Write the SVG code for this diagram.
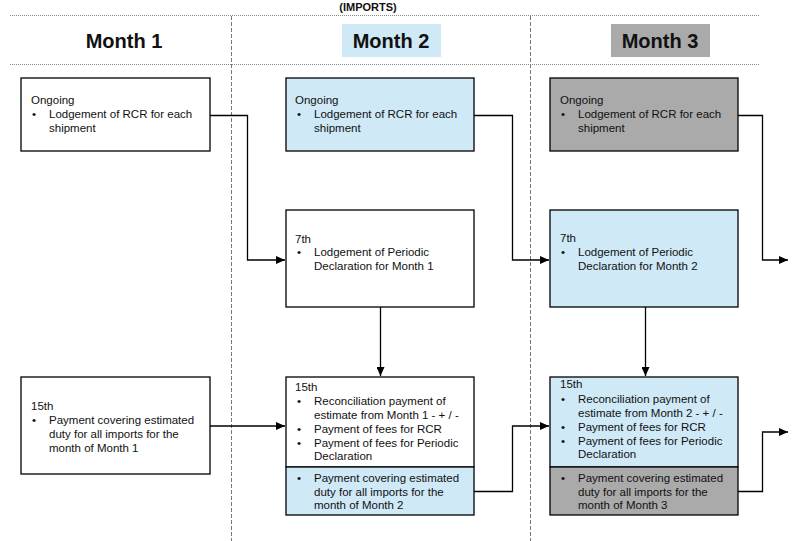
<svg xmlns="http://www.w3.org/2000/svg" width="795" height="541" viewBox="0 0 795 541">
<defs>
<style>
text{font-family:"Liberation Sans",Arial,sans-serif;font-size:11.5px;fill:#111}
.hd{font-size:20px;font-weight:bold;text-anchor:middle}
.imp{font-size:11px;font-weight:bold;text-anchor:middle}
.box{stroke:#000;stroke-width:1.3}
.w{fill:#fff}
.b{fill:#cfe9f7}
.g{fill:#aaaaaa}
.rule{stroke:#888;stroke-width:1;stroke-dasharray:1 1}
.vd{stroke:#777;stroke-width:1;stroke-dasharray:4 2}
.con{fill:none;stroke:#000;stroke-width:1.3}
</style>
<marker id="ah" markerWidth="10" markerHeight="8" refX="9" refY="4" orient="auto" markerUnits="userSpaceOnUse">
<path d="M0,0 L9,4 L0,8 z" fill="#000"/>
</marker>
</defs>
<rect width="795" height="541" fill="#fff"/>
<g id="header">
<text class="imp" x="368" y="11">(IMPORTS)</text>
<line class="rule" x1="10" y1="15.5" x2="760" y2="15.5"/>
<line class="rule" x1="10" y1="64.5" x2="760" y2="64.5"/>
<line class="vd" x1="231.5" y1="16" x2="231.5" y2="541"/>
<line class="vd" x1="530.5" y1="16" x2="530.5" y2="541"/>
<text class="hd" x="124" y="48">Month 1</text>
<rect x="342" y="24" width="99" height="33" class="b"/>
<text class="hd" x="391" y="48">Month 2</text>
<rect x="611" y="24" width="99" height="33" class="g"/>
<text class="hd" x="660" y="48">Month 3</text>
</g>
<g id="m1-ongoing">
<rect class="box w" x="21" y="78" width="189" height="73"/>
<text x="31" y="104">Ongoing</text>
<text x="32" y="118">•</text><text x="49" y="118">Lodgement of RCR for each</text>
<text x="49" y="132">shipment</text>
</g>
<g id="m2-ongoing">
<rect class="box b" x="286" y="78" width="188" height="73"/>
<text x="295" y="104">Ongoing</text>
<text x="297" y="118">•</text><text x="314" y="118">Lodgement of RCR for each</text>
<text x="314" y="132">shipment</text>
</g>
<g id="m3-ongoing">
<rect class="box g" x="550" y="78" width="188" height="73"/>
<text x="560" y="104">Ongoing</text>
<text x="561" y="118">•</text><text x="578" y="118">Lodgement of RCR for each</text>
<text x="578" y="132">shipment</text>
</g>
<g id="m2-7th">
<rect class="box w" x="286" y="210" width="188" height="97"/>
<text x="295" y="243">7th</text>
<text x="297" y="256">•</text><text x="314" y="256">Lodgement of Periodic</text>
<text x="314" y="270">Declaration for Month 1</text>
</g>
<g id="m3-7th">
<rect class="box b" x="550" y="210" width="188" height="97"/>
<text x="560" y="242">7th</text>
<text x="561" y="256">•</text><text x="578" y="256">Lodgement of Periodic</text>
<text x="578" y="270">Declaration for Month 2</text>
</g>
<g id="m1-15th">
<rect class="box w" x="21" y="377" width="189" height="97"/>
<text x="31" y="410">15th</text>
<text x="32" y="424">•</text><text x="49" y="424">Payment covering estimated</text>
<text x="49" y="438">duty for all imports for the</text>
<text x="49" y="452">month of Month 1</text>
</g>
<g id="m2-15th">
<rect class="box w" x="286" y="377" width="188" height="90"/>
<rect class="box b" x="286" y="467" width="188" height="48"/>
<text x="295" y="391">15th</text>
<text x="297" y="405">•</text><text x="314" y="405">Reconciliation payment of</text>
<text x="314" y="419">estimate from Month 1 - + / -</text>
<text x="297" y="433">•</text><text x="314" y="433">Payment of fees for RCR</text>
<text x="297" y="447">•</text><text x="314" y="447">Payment of fees for Periodic</text>
<text x="314" y="460">Declaration</text>
<text x="297" y="482">•</text><text x="314" y="482">Payment covering estimated</text>
<text x="314" y="496">duty for all imports for the</text>
<text x="314" y="509">month of Month 2</text>
</g>
<g id="m3-15th">
<rect class="box b" x="550" y="377" width="188" height="90"/>
<rect class="box g" x="550" y="467" width="188" height="48"/>
<text x="560" y="388">15th</text>
<text x="561" y="403">•</text><text x="578" y="403">Reconciliation payment of</text>
<text x="578" y="417">estimate from Month 2 - + / -</text>
<text x="561" y="431">•</text><text x="578" y="431">Payment of fees for RCR</text>
<text x="561" y="445">•</text><text x="578" y="445">Payment of fees for Periodic</text>
<text x="578" y="458">Declaration</text>
<text x="561" y="482">•</text><text x="578" y="482">Payment covering estimated</text>
<text x="578" y="496">duty for all imports for the</text>
<text x="578" y="509">month of Month 3</text>
</g>
<g id="connectors">
<path class="con" d="M210,115.5 H247.5 V260 H285" marker-end="url(#ah)"/>
<path class="con" d="M474,115.5 H512.5 V260 H549" marker-end="url(#ah)"/>
<path class="con" d="M738,115.5 H762.5 V260 H788" marker-end="url(#ah)"/>
<path class="con" d="M380.5,307 V376" marker-end="url(#ah)"/>
<path class="con" d="M645.5,307 V376" marker-end="url(#ah)"/>
<path class="con" d="M210,426 H285" marker-end="url(#ah)"/>
<path class="con" d="M474,491.5 H512.5 V426 H549" marker-end="url(#ah)"/>
<path class="con" d="M738,491.5 H762.5 V432 H788" marker-end="url(#ah)"/>
</g>
</svg>
